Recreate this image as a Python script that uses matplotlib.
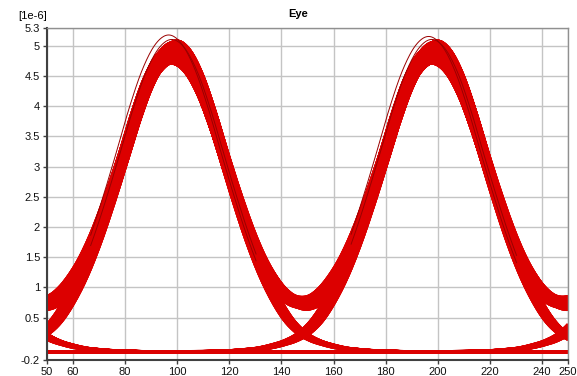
import numpy as np
import matplotlib
matplotlib.use("Agg")
import matplotlib.pyplot as plt

plt.rcParams['font.family'] = ['Liberation Sans', 'DejaVu Sans']

# Single-pulse response: offset from pulse centre (x units) -> amplitude (1e-6)
pulse_offset = [0, 5, 10, 15, 20, 25, 30, 35, 40, 45, 50, 55, 60, 65, 70, 75, 80, 85, 90, 95]
pulse_value = [4.94, 4.80, 4.41, 3.82, 3.12, 2.44, 1.81, 1.27, 0.84, 0.51,
               0.30, 0.18, 0.11, 0.06, 0.035, 0.018, 0.008, 0.003, 0.0, 0.0]
baseline = -0.06

# Extra lift between two consecutive ones: offset from the mid-point -> amplitude
bump_offset = [0, 5, 10, 15, 20, 25, 30, 35, 40, 45]
bump_value = [0.18, 0.17, 0.14, 0.10, 0.06, 0.03, 0.01, 0.0, 0.0, 0.0]

# Bit slots (pulse centres) that fall inside the displayed window
bit_centres = [-1.5, 98.5, 198.5, 298.5]

# Per-pulse spread of amplitude, width and timing across overlaid traces
amp_scale = [0.985, 1.02, 0.97, 1.005, 1.035, 0.99, 0.975, 1.015, 1.0, 1.04,
             0.98, 1.01, 0.965, 1.025, 0.995, 1.03, 0.9725, 1.0075, 0.9875, 1.0175]
width_scale = [1.0, 0.98, 1.02, 0.99, 1.01, 0.985, 1.015, 0.995, 1.005, 0.9825,
               1.0125, 0.9975, 1.0025, 0.98, 1.02, 0.9925, 1.0075, 0.9875, 1.0175, 1.0]
time_shift = [0.3, -1.6, 0.6, -0.3, 0.0, 1.6, -0.9, 1.1, -0.6, 1.3,
              -1.3, 0.2, -0.7, 0.8, -1.4, 1.4, -0.2, 0.5, -1.1, 0.9]

# A few stray pulses that overshoot the main band: (centre, amplitude scale, time shift)
stray_centre = [98.5, 98.5, 198.5, 198.5]
stray_amp = [1.06, 1.045, 1.055, 1.045]
stray_shift = [-1.8, -0.6, -2.0, -0.8]

x_ticks = [50, 60, 80, 100, 120, 140, 160, 180, 200, 220, 240, 250]
y_ticks = [-0.2, 0.5, 1, 1.5, 2, 2.5, 3, 3.5, 4, 4.5, 5, 5.3]
y_tick_labels = ['-0.2', '0.5', '1', '1.5', '2', '2.5', '3', '3.5', '4', '4.5', '5', '5.3']


def smooth_lookup(d, offsets, values):
    """Catmull-Rom evaluation of symmetric, evenly spaced samples at offsets d."""
    off = np.asarray(offsets, float)
    val = np.asarray(values, float)
    step = off[1] - off[0]
    ext = np.concatenate([val[1:2], val, val[-1:]])
    a = np.clip(np.abs(d) / step, 0, len(val) - 1.0001)
    i = np.floor(a).astype(int)
    t = a - i
    p0, p1, p2, p3 = ext[i], ext[i + 1], ext[i + 2], ext[np.minimum(i + 3, len(ext) - 1)]
    return 0.5 * ((2 * p1) + (-p0 + p2) * t + (2 * p0 - 5 * p1 + 4 * p2 - p3) * t ** 2
                  + (-p0 + 3 * p1 - 3 * p2 + p3) * t ** 3)


def pulse(d):
    return smooth_lookup(d, pulse_offset, pulse_value)


x = np.linspace(50, 250, 801)
n_var = len(amp_scale)

fig = plt.figure(figsize=(5.77, 3.76), dpi=100)
ax = fig.add_axes([47 / 577, 16 / 376, 521 / 577, 332.5 / 376])

# every bit pattern over the visible slots, overlaid with the pulse spread
for pattern in range(2 ** len(bit_centres)):
    bits = [(pattern >> k) & 1 for k in range(len(bit_centres))]
    for v in range(n_var):
        y = np.full_like(x, baseline)
        for k, (b, c) in enumerate(zip(bits, bit_centres)):
            if b:
                j = (v + 7 * k) % n_var
                d = (x - c - time_shift[j]) / width_scale[j]
                y = y + amp_scale[j] * pulse(d)
        for k in range(len(bit_centres) - 1):
            if bits[k] and bits[k + 1]:
                j = (v + 3 * k) % n_var
                mid = 0.5 * (bit_centres[k] + bit_centres[k + 1])
                y = y + amp_scale[j] * smooth_lookup(x - mid, bump_offset, bump_value)
        ax.plot(x, y, color='#dc0000', lw=2.0, solid_capstyle='butt')

# thin overshooting traces near the pulse tops
for c, a, s in zip(stray_centre, stray_amp, stray_shift):
    xs = x[np.abs(x - c) < 32]
    ax.plot(xs, baseline + a * pulse(xs - c - s), color='#9a0000', lw=0.7)

ax.set_xlim(50, 250)
ax.set_ylim(-0.2, 5.3)
ax.set_xticks(x_ticks)
ax.set_xticklabels([str(t) for t in x_ticks])
ax.set_yticks(y_ticks)
ax.set_yticklabels(y_tick_labels)
ax.grid(True, color='#c4c4c4', lw=1.0)
ax.set_axisbelow(True)
ax.tick_params(axis='both', labelsize=8, length=3, width=1, color='#404040',
               direction='out', pad=2, labelcolor='#111111')

for side in ('left', 'bottom'):
    ax.spines[side].set_color('#404040')
    ax.spines[side].set_linewidth(1.5)
for side in ('top', 'right'):
    ax.spines[side].set_color('#909090')
    ax.spines[side].set_linewidth(1.0)

fig.text(298 / 577, 1 - 14 / 376, 'Eye', ha='center', va='center',
         fontsize=8, fontweight='bold')
fig.text(33 / 577, 1 - 16 / 376, '[1e-6]', ha='center', va='center', fontsize=8)

fig.savefig('out.png', dpi=100)
